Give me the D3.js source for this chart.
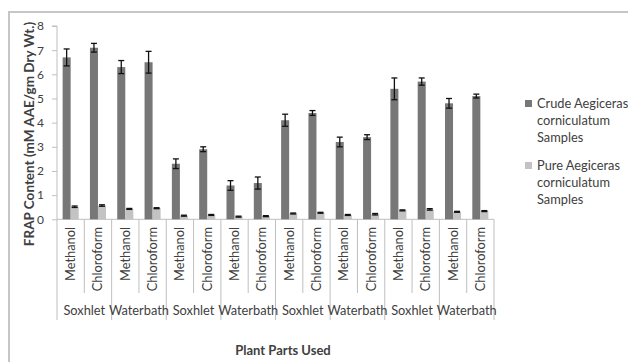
<!DOCTYPE html>
<html>
<head>
<meta charset="utf-8">
<script src="https://cdn.jsdelivr.net/npm/d3@7"></script>
<style>
  html, body { margin: 0; padding: 0; background: #fff; }
  svg { display: block; }
  text { font-family: Lato, "Open Sans", sans-serif; fill: #404040; }
</style>
</head>
<body>
<svg id="chart" width="629" height="362"></svg>
<script>
// ---- data ----
const solvents = ["Methanol", "Chloroform", "Methanol", "Chloroform", "Methanol", "Chloroform", "Methanol", "Chloroform",
                  "Methanol", "Chloroform", "Methanol", "Chloroform", "Methanol", "Chloroform", "Methanol", "Chloroform"];
const methods = ["Soxhlet", "Waterbath", "Soxhlet", "Waterbath", "Soxhlet", "Waterbath", "Soxhlet", "Waterbath"];
const seriesNames = ["Crude Aegiceras corniculatum Samples", "Pure Aegiceras corniculatum Samples"];
const crudeValues = [6.7, 7.1, 6.3, 6.5, 2.3, 2.9, 1.4, 1.5, 4.1, 4.4, 3.2, 3.4, 5.4, 5.7, 4.8, 5.1];
const crudeErrors = [0.35, 0.18, 0.27, 0.45, 0.2, 0.1, 0.2, 0.25, 0.25, 0.1, 0.2, 0.1, 0.45, 0.15, 0.2, 0.08];
const pureValues = [0.52, 0.57, 0.43, 0.46, 0.15, 0.18, 0.11, 0.13, 0.24, 0.27, 0.18, 0.21, 0.37, 0.41, 0.31, 0.34];
const pureErrors = [0.03, 0.03, 0.02, 0.02, 0.02, 0.02, 0.02, 0.02, 0.02, 0.02, 0.02, 0.03, 0.02, 0.03, 0.02, 0.02];
const yTicks = [0, 1, 2, 3, 4, 5, 6, 7, 8];
const yTitle = "FRAP Content (mM AAE/gm Dry Wt.)";
const xTitle = "Plant Parts Used";
const seriesColors = ["#777777", "#c3c3c3"];

// ---- layout ----
const svg = d3.select("#chart");
const plotLeft = 57, plotRight = 494, plotTop = 26, zeroY = 219.3;
const x = d3.scaleBand().domain(d3.range(crudeValues.length)).range([plotLeft, plotRight]).padding(0);
const sub = d3.scaleBand().domain([0, 1]).range([0, x.bandwidth()]).paddingInner(0).paddingOuter(0.7);
const y = d3.scaleLinear().domain([0, 8]).range([zeroY, plotTop]);

// outer frame
svg.append("path").attr("d", "M9,362 V12 H628")
  .attr("fill", "none").attr("stroke", "#c6c6c6").attr("stroke-width", 2);

// y axis
const yAxis = d3.axisLeft(y).tickValues(yTicks).tickSize(5).tickPadding(8).tickFormat(d3.format("d"));
const gy = svg.append("g").attr("transform", `translate(${plotLeft},0)`).call(yAxis);
gy.attr("font-family", null).attr("font-size", null);
gy.select(".domain").attr("stroke", "#bfbfbf").attr("d", `M-5,${y(8)}H0V${zeroY}`);
gy.selectAll(".tick line").attr("stroke", "#bfbfbf");
gy.selectAll(".tick text").style("font-size", "12px").style("fill", "#404040");

// category axis (multi-level)
const gx = svg.append("g");
gx.append("line").attr("x1", plotLeft).attr("x2", plotRight).attr("y1", zeroY).attr("y2", zeroY)
  .attr("stroke", "#bfbfbf");
d3.range(crudeValues.length + 1).forEach(i => {
  const xx = i < crudeValues.length ? x(i) : plotRight;
  gx.append("line").attr("x1", xx).attr("x2", xx).attr("y1", zeroY)
    .attr("y2", i % 2 === 0 ? 320 : 293).attr("stroke", "#bfbfbf");
});
gx.selectAll("text.cat").data(solvents).join("text")
  .attr("class", "cat")
  .attr("transform", (d, i) => `translate(${x(i) + x.bandwidth() / 2 + 4.5},227) rotate(-90)`)
  .attr("text-anchor", "end")
  .style("font-size", "12.8px")
  .text(d => d);
gx.selectAll("text.grp").data(methods).join("text")
  .attr("class", "grp")
  .attr("x", (d, i) => x(i * 2) + x.bandwidth())
  .attr("y", 315)
  .attr("text-anchor", "middle")
  .style("font-size", "12.8px")
  .text(d => d);

// bars
const series = [
  { values: crudeValues, errors: crudeErrors },
  { values: pureValues, errors: pureErrors }
];
series.forEach((s, si) => {
  const g = svg.append("g");
  g.selectAll("rect").data(s.values).join("rect")
    .attr("x", (d, i) => x(i) + sub(si))
    .attr("width", sub.bandwidth())
    .attr("y", d => y(d))
    .attr("height", d => zeroY - y(d))
    .attr("fill", seriesColors[si]);
  const eb = g.selectAll("g.err").data(s.values).join("g").attr("class", "err");
  eb.append("line")
    .attr("x1", (d, i) => x(i) + sub(si) + sub.bandwidth() / 2)
    .attr("x2", (d, i) => x(i) + sub(si) + sub.bandwidth() / 2)
    .attr("y1", (d, i) => y(d + s.errors[i]))
    .attr("y2", (d, i) => y(d - s.errors[i]))
    .attr("stroke", "#111").attr("stroke-width", 1.3);
  [1, -1].forEach(sign => {
    eb.append("line")
      .attr("x1", (d, i) => x(i) + sub(si) + sub.bandwidth() / 2 - 3)
      .attr("x2", (d, i) => x(i) + sub(si) + sub.bandwidth() / 2 + 3)
      .attr("y1", (d, i) => y(d + sign * s.errors[i]))
      .attr("y2", (d, i) => y(d + sign * s.errors[i]))
      .attr("stroke", "#111").attr("stroke-width", 1.3);
  });
});

// axis titles
svg.append("text")
  .attr("transform", `translate(29,134) rotate(-90)`)
  .attr("text-anchor", "middle")
  .attr("dy", "0.35em")
  .style("font-size", "13.5px").style("font-weight", "bold")
  .text(yTitle);
svg.append("text")
  .attr("x", 283).attr("y", 355)
  .attr("text-anchor", "middle")
  .style("font-size", "13px").style("font-weight", "bold")
  .text(xTitle);

// legend
const legendLines = [["Crude Aegiceras", "corniculatum", "Samples"], ["Pure Aegiceras", "corniculatum", "Samples"]];
const legendTop = [100, 162];
legendLines.forEach((lines, li) => {
  svg.append("rect").attr("x", 525).attr("y", legendTop[li]).attr("width", 7).attr("height", 7)
    .attr("fill", seriesColors[li]);
  lines.forEach((t, k) => {
    svg.append("text").attr("x", 537).attr("y", legendTop[li] + 7.5 + k * 17)
      .style("font-size", "12.8px").text(t);
  });
});
</script>
</body>
</html>
